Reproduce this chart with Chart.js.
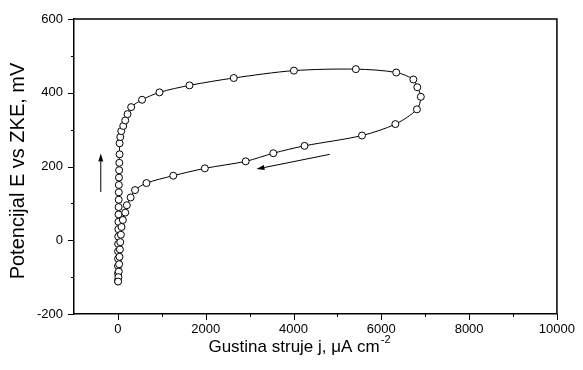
<!DOCTYPE html>
<html>
<head>
<meta charset="utf-8">
<script src="https://cdn.jsdelivr.net/npm/chart.js@4.4.1/dist/chart.umd.min.js"></script>
<style>
  html, body { margin: 0; padding: 0; background: #fff; }
  #wrap { width: 583px; height: 370px; }
</style>
</head>
<body>
<div id="wrap"><canvas id="polarization-chart" width="583" height="370"></canvas></div>
<script>
// Polarization loop data
const currentDensity = [0, 2, 3, 4, 5, 6, 8, 10, 12, 14, 16, 18, 20, 22, 25, 28, 32, 38, 38, 54, 77, 122, 167, 219, 302, 550, 947, 1630, 2640, 4010, 5420, 6340, 6730, 6820, 6900, 6810, 6320, 5560, 4250, 3540, 2910, 1980, 1260, 650, 390, 290, 203, 167, 113, 83, 68, 54, 45, 36, 28, 20, 12, 5];
const potential = [-110, -90, -70, -50, -30, -10, 10, 30, 50, 70, 90, 110, 130, 150, 170, 190, 210, 233, 263, 280, 296, 310, 325, 342, 361, 381, 401, 420, 440, 460, 464, 455, 436, 415, 389, 355, 315, 284, 256, 236, 214, 195, 175, 155, 136, 116, 95, 75, 55, 36, 15, -5, -25, -45, -65, -85, -100, -112];

// Scan direction arrows (data coords, tail -> head)
const upArrowX = [-390, -390];
const upArrowY = [131, 235];
const backArrowX = [4825, 3157];
const backArrowY = [233, 193];

// Axis ticks
const xTickValues = [0, 2000, 4000, 6000, 8000, 10000];
const xMinorTicks = [1000, 3000, 5000, 7000, 9000];
const yTickValues = [-200, 0, 200, 400, 600];
const yMinorTicks = [-100, 100, 300, 500];

const FONT = '"Liberation Sans", Arial, sans-serif';

// Draw ticks, frame, arrows and axis titles
const decorPlugin = {
    id: 'decor',
    afterDraw(chart) {
        const ctx = chart.ctx;
        const xs = chart.scales.x;
        const ys = chart.scales.y;
        const area = chart.chartArea;

        ctx.save();
        ctx.strokeStyle = '#000';
        ctx.lineWidth = 1.5;

        // frame (top and right)
        ctx.beginPath();
        ctx.moveTo(area.left, area.top);
        ctx.lineTo(area.right, area.top);
        ctx.lineTo(area.right, area.bottom);
        ctx.stroke();

        // ticks pointing outward
        ctx.lineWidth = 1;
        ctx.beginPath();
        xTickValues.forEach(v => {
            const px = Math.round(xs.getPixelForValue(v)) + 0.5;
            ctx.moveTo(px, area.bottom); ctx.lineTo(px, area.bottom + 6);
        });
        xMinorTicks.forEach(v => {
            const px = Math.round(xs.getPixelForValue(v)) + 0.5;
            ctx.moveTo(px, area.bottom); ctx.lineTo(px, area.bottom + 3);
        });
        yTickValues.forEach(v => {
            const py = Math.round(ys.getPixelForValue(v)) + 0.5;
            ctx.moveTo(area.left, py); ctx.lineTo(area.left - 6, py);
        });
        yMinorTicks.forEach(v => {
            const py = Math.round(ys.getPixelForValue(v)) + 0.5;
            ctx.moveTo(area.left, py); ctx.lineTo(area.left - 3, py);
        });
        ctx.stroke();

        // arrows
        drawArrow(ctx, xs, ys, upArrowX, upArrowY);
        drawArrow(ctx, xs, ys, backArrowX, backArrowY);

        // axis titles
        ctx.fillStyle = '#000';
        ctx.font = '17px ' + FONT;
        ctx.textBaseline = 'alphabetic';
        const main = 'Gustina struje j, \u03BCA cm';
        const sup = '-2';
        const wMain = ctx.measureText(main).width;
        ctx.font = '11px ' + FONT;
        const wSup = ctx.measureText(sup).width;
        const startX = 299 - (wMain + wSup) / 2;
        ctx.font = '17px ' + FONT;
        ctx.textAlign = 'left';
        ctx.fillText(main, startX, 352);
        ctx.font = '11px ' + FONT;
        ctx.fillText(sup, startX + wMain + 1, 343);

        ctx.translate(24, 171);
        ctx.rotate(-Math.PI / 2);
        ctx.font = '20px ' + FONT;
        ctx.textAlign = 'center';
        ctx.fillText('Potencijal E vs ZKE, mV', 0, 0);
        ctx.restore();
    }
};

function drawArrow(ctx, xs, ys, ax, ay) {
    const x0 = xs.getPixelForValue(ax[0]), y0 = ys.getPixelForValue(ay[0]);
    const x1 = xs.getPixelForValue(ax[1]), y1 = ys.getPixelForValue(ay[1]);
    const ang = Math.atan2(y1 - y0, x1 - x0);
    const len = 8, half = 2.5;
    const bx = x1 - len * Math.cos(ang), by = y1 - len * Math.sin(ang);
    ctx.beginPath();
    ctx.moveTo(x0, y0);
    ctx.lineTo(bx, by);
    ctx.stroke();
    ctx.beginPath();
    ctx.moveTo(x1, y1);
    ctx.lineTo(bx + half * Math.sin(ang), by - half * Math.cos(ang));
    ctx.lineTo(bx - half * Math.sin(ang), by + half * Math.cos(ang));
    ctx.closePath();
    ctx.fillStyle = '#000';
    ctx.fill();
}

const points = currentDensity.map((x, i) => ({ x: x, y: potential[i] }));

new Chart(document.getElementById('polarization-chart'), {
    type: 'scatter',
    data: {
        datasets: [{
            data: points,
            showLine: true,
            borderColor: '#000',
            borderWidth: 1,
            tension: 0.3,
            pointRadius: 3.5,
            pointBackgroundColor: '#fff',
            pointBorderColor: '#000',
            pointBorderWidth: 1
        }]
    },
    options: {
        responsive: false,
        animation: false,
        layout: { padding: { left: 0, top: 19, right: 21, bottom: 0 } },
        plugins: {
            legend: { display: false },
            tooltip: { enabled: false }
        },
        scales: {
            x: {
                type: 'linear',
                min: -1000,
                max: 10000,
                afterBuildTicks: s => { s.ticks = xTickValues.map(v => ({ value: v })); },
                afterFit: s => { s.height = 56; },
                grid: { display: false, drawTicks: false },
                border: { display: true, color: '#000', width: 1.5 },
                ticks: { color: '#000', padding: 8, maxRotation: 0, callback: v => String(v), font: { family: FONT, size: 13 } }
            },
            y: {
                type: 'linear',
                min: -200,
                max: 600,
                afterBuildTicks: s => { s.ticks = yTickValues.map(v => ({ value: v })); },
                afterFit: s => { s.width = 74; },
                grid: { display: false, drawTicks: false },
                border: { display: true, color: '#000', width: 1.5 },
                ticks: { color: '#000', padding: 11, callback: v => String(v), font: { family: FONT, size: 13 } }
            }
        }
    },
    plugins: [decorPlugin]
});
</script>
</body>
</html>
